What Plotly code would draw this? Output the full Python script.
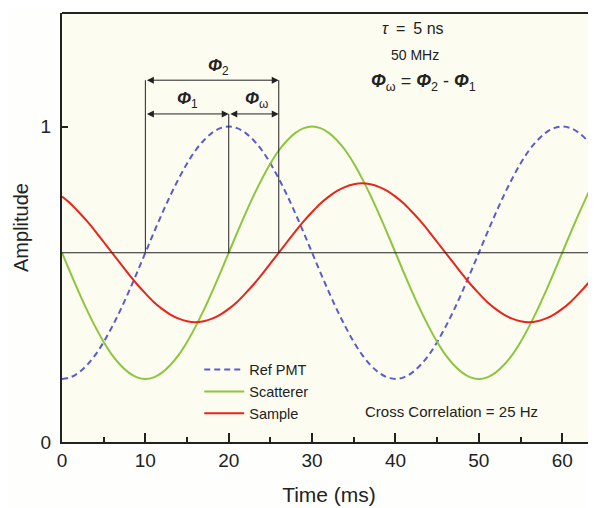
import plotly.graph_objects as go

time_ms = list(range(0, 65))
ref_pmt = [0.200, 0.205, 0.220, 0.244, 0.276, 0.317, 0.365, 0.418, 0.476, 0.537, 0.600,
           0.663, 0.724, 0.782, 0.835, 0.883, 0.924, 0.956, 0.980, 0.995, 1.000,
           0.995, 0.980, 0.956, 0.924, 0.883, 0.835, 0.782, 0.724, 0.663, 0.600,
           0.537, 0.476, 0.418, 0.365, 0.317, 0.276, 0.244, 0.220, 0.205, 0.200,
           0.205, 0.220, 0.244, 0.276, 0.317, 0.365, 0.418, 0.476, 0.537, 0.600,
           0.663, 0.724, 0.782, 0.835, 0.883, 0.924, 0.956, 0.980, 0.995, 1.000,
           0.995, 0.980, 0.956, 0.924]
scatterer = [0.600, 0.537, 0.476, 0.418, 0.365, 0.317, 0.276, 0.244, 0.220, 0.205, 0.200,
             0.205, 0.220, 0.244, 0.276, 0.317, 0.365, 0.418, 0.476, 0.537, 0.600,
             0.663, 0.724, 0.782, 0.835, 0.883, 0.924, 0.956, 0.980, 0.995, 1.000,
             0.995, 0.980, 0.956, 0.924, 0.883, 0.835, 0.782, 0.724, 0.663, 0.600,
             0.537, 0.476, 0.418, 0.365, 0.317, 0.276, 0.244, 0.220, 0.205, 0.200,
             0.205, 0.220, 0.244, 0.276, 0.317, 0.365, 0.418, 0.476, 0.537, 0.600,
             0.663, 0.724, 0.782, 0.835]
sample = [0.778, 0.756, 0.729, 0.700, 0.668, 0.634, 0.600, 0.566, 0.532, 0.500, 0.471,
          0.444, 0.422, 0.404, 0.391, 0.383, 0.380,
          0.383, 0.391, 0.404, 0.422, 0.444, 0.471, 0.500, 0.532, 0.566, 0.600,
          0.634, 0.668, 0.700, 0.729, 0.756, 0.778, 0.796, 0.809, 0.817, 0.820,
          0.817, 0.809, 0.796, 0.778, 0.756, 0.729, 0.700, 0.668, 0.634, 0.600,
          0.566, 0.532, 0.500, 0.471, 0.444, 0.422, 0.404, 0.391, 0.383, 0.380,
          0.383, 0.391, 0.404, 0.422, 0.444, 0.471, 0.500, 0.532]
series_names = ["Ref PMT", "Scatterer", "Sample"]

baseline = 0.6
phi_x = [10, 20, 26]
phi2_level = 1.147
phi1_level = 1.04

FONT = "Arial, Liberation Sans, sans-serif"
BLUE = "#5b5bd0"
GREEN = "#8cc63f"
RED = "#e6261c"
INK = "#222"

fig = go.Figure()
fig.add_trace(go.Scatter(x=time_ms, y=ref_pmt, name=series_names[0], mode="lines",
                         line=dict(color=BLUE, width=2, dash="6px,4px", shape="spline")))
fig.add_trace(go.Scatter(x=time_ms, y=scatterer, name=series_names[1], mode="lines",
                         line=dict(color=GREEN, width=2, shape="spline")))
fig.add_trace(go.Scatter(x=time_ms, y=sample, name=series_names[2], mode="lines",
                         line=dict(color=RED, width=2, shape="spline")))

shapes = [
    dict(type="line", xref="paper", yref="y", x0=0, x1=1, y0=baseline, y1=baseline,
         line=dict(color=INK, width=1.2)),
    dict(type="line", xref="x", yref="y", x0=phi_x[0], x1=phi_x[0], y0=baseline, y1=phi2_level,
         line=dict(color=INK, width=1)),
    dict(type="line", xref="x", yref="y", x0=phi_x[1], x1=phi_x[1], y0=baseline, y1=phi1_level,
         line=dict(color=INK, width=1)),
    dict(type="line", xref="x", yref="y", x0=phi_x[2], x1=phi_x[2], y0=baseline, y1=phi2_level,
         line=dict(color=INK, width=1)),
    dict(type="line", xref="paper", yref="paper", x0=0, x1=1, y0=1, y1=1,
         line=dict(color=INK, width=2)),
]

def darrow(x0, x1, y):
    return dict(x=x1, y=y, ax=x0, ay=y, xref="x", yref="y", axref="x", ayref="y",
                text="", showarrow=True, arrowhead=2, arrowside="end+start",
                arrowsize=1.4, arrowwidth=1, arrowcolor=INK, standoff=0, startstandoff=0)

PHI = "<b><i>Φ</i></b>"
annotations = [
    darrow(phi_x[0], phi_x[2], phi2_level),
    darrow(phi_x[0], phi_x[1], phi1_level),
    darrow(phi_x[1], phi_x[2], phi1_level),
    dict(x=18.8, y=1.19, xref="x", yref="y", text=PHI + "<sub>2</sub>", showarrow=False,
         font=dict(size=17, family=FONT, color=INK)),
    dict(x=15, y=1.085, xref="x", yref="y", text=PHI + "<sub>1</sub>", showarrow=False,
         font=dict(size=17, family=FONT, color=INK)),
    dict(x=23.3, y=1.085, xref="x", yref="y", text=PHI + "<sub>ω</sub>", showarrow=False,
         font=dict(size=17, family=FONT, color=INK)),
    dict(x=42.1, y=1.31, xref="x", yref="y", text="<i>τ</i>\u2002=\u20025 ns", showarrow=False,
         font=dict(size=16, family=FONT, color=INK)),
    dict(x=42.3, y=1.228, xref="x", yref="y", text="50 MHz", showarrow=False,
         font=dict(size=14, family=FONT, color=INK)),
    dict(x=43.3, y=1.14, xref="x", yref="y",
         text=PHI + "<sub>ω</sub> = " + PHI + "<sub>2</sub> - " + PHI + "<sub>1</sub>",
         showarrow=False, font=dict(size=18, family=FONT, color=INK)),
    dict(x=46.7, y=0.097, xref="x", yref="y", text="Cross Correlation = 25 Hz", showarrow=False,
         font=dict(size=15, family=FONT, color=INK)),
]

fig.update_layout(
    width=596, height=508,
    margin=dict(l=54, r=8, t=5, b=74),
    paper_bgcolor="#fefefc",
    plot_bgcolor="#fdfcf1",
    font=dict(family=FONT, color=INK),
    shapes=shapes,
    annotations=annotations,
    legend=dict(x=0.257, y=0.206, xanchor="left", yanchor="top", itemwidth=40,
                bgcolor="rgba(0,0,0,0)", font=dict(size=14.5, family=FONT, color=INK),
                tracegroupgap=0),
    showlegend=True,
)
fig.update_xaxes(range=[0, 64.05], showgrid=False, zeroline=False, automargin=False,
                 showline=True, linecolor=INK, linewidth=2, mirror=False,
                 ticks="inside", ticklen=9, tickwidth=1.5, tickcolor=INK,
                 tickvals=[0, 10, 20, 30, 40, 50, 60],
                 minor=dict(tickvals=[5, 15, 25, 35, 45, 55], ticks="inside", ticklen=5,
                            tickwidth=1.5, tickcolor=INK),
                 tickfont=dict(size=19, family=FONT, color=INK),
                 title=dict(text="Time (ms)", font=dict(size=21, family=FONT, color=INK), standoff=18))
fig.update_yaxes(range=[0, 1.36], showgrid=False, zeroline=False, automargin=False,
                 showline=True, linecolor=INK, linewidth=2, mirror=False,
                 ticks="inside", ticklen=6, tickwidth=1.5, tickcolor=INK,
                 tickvals=[0, 1], ticktext=["0", "1"], ticklabelstandoff=5,
                 tickfont=dict(size=19, family=FONT, color=INK),
                 title=dict(text="Amplitude", font=dict(size=20, family=FONT, color=INK), standoff=7))

fig.write_html("out.html")
